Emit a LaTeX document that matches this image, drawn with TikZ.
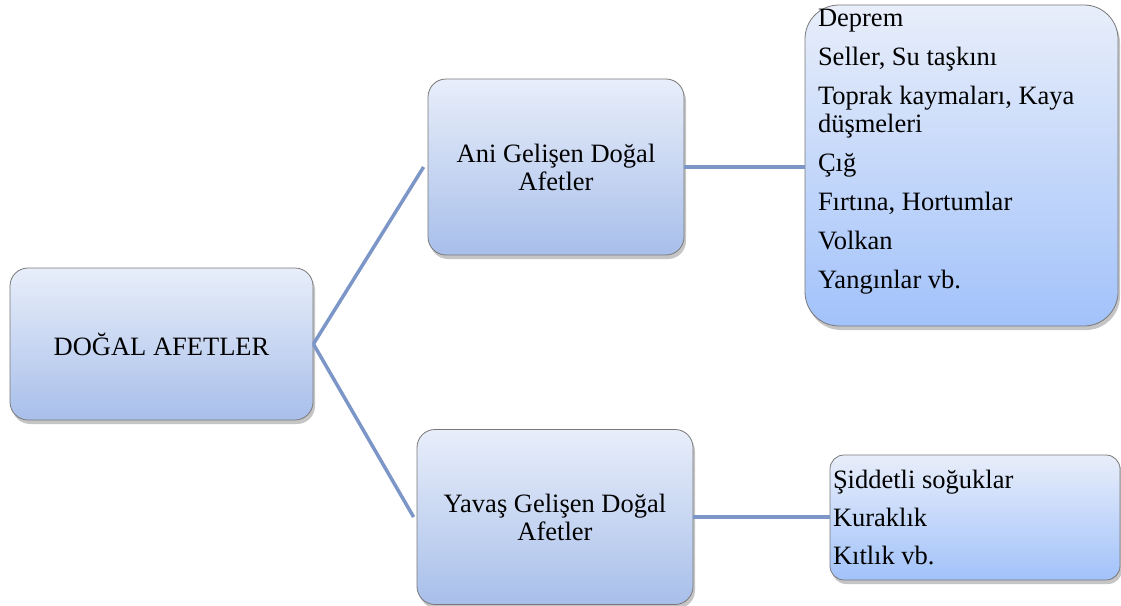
\documentclass[tikz,border=0pt]{standalone}
\usepackage{fontspec}
\setmainfont{Liberation Serif}
\usetikzlibrary{
    arrows.meta,
    positioning,
    shadows
}
\definecolor{linkblue}{RGB}{124, 150, 200}
\definecolor{boxtop}{RGB}{232, 238, 250}
\definecolor{boxbottom}{RGB}{168, 191, 234}
\definecolor{listbottom}{RGB}{162, 194, 250}
\definecolor{boxedge}{RGB}{120, 120, 120}

\begin{document}
\begin{tikzpicture}[
        x=1pt, y=-1pt,
        font=\fontsize{26.5}{28}\selectfont,
        block/.style={draw=boxedge, line width=0.8pt, rounded corners=18pt, align=center,
            top color=boxtop, bottom color=boxbottom,
            drop shadow={shadow xshift=2pt, shadow yshift=-4pt, fill=black!45, opacity=0.5}},
        listbox/.style={block, bottom color=listbottom, inner sep=0pt},
        link/.style={draw=linkblue, line width=3.5pt}
    ]
        \useasboundingbox (0,0) rectangle (1121,605);

        % Root
        \node[block, minimum width=303pt, minimum height=152pt] (root) at (161.5, 344) {DOĞAL AFETLER};

        % Groups
        \node[block, minimum width=256pt, minimum height=176pt] (ani) at (556, 167) {Ani Gelişen Doğal\\Afetler};
        \node[block, minimum width=276pt, minimum height=175pt] (yavas) at (555, 517) {Yavaş Gelişen Doğal\\Afetler};

        % Lists
        \node[listbox, rounded corners=34pt] (anilist) at (961.5, 165.5) {%
            \begin{minipage}[c][321pt][t]{313pt}
            \leftskip=13pt \parskip=11pt
            \vspace*{4pt}
            Deprem\par
            Seller, Su taşkını\par
            Toprak kaymaları, Kaya\\düşmeleri\par
            Çığ\par
            Fırtına, Hortumlar\par
            Volkan\par
            Yangınlar vb.
            \end{minipage}};
        \node[listbox, rounded corners=14pt] (yavaslist) at (975, 517.5) {%
            \begin{minipage}[c][125pt][c]{290pt}
            \leftskip=3pt \parskip=10pt
            Şiddetli soğuklar\par
            Kuraklık\par
            Kıtlık vb.
            \end{minipage}};

        % Links
        \draw[link] (root.east) -- ([xshift=-4pt]ani.west);
        \draw[link] (root.east) -- ([xshift=-3pt]yavas.west);
        \draw[link] (ani.east) -- (ani.east -| anilist.west);
        \draw[link] (yavas.east) -- (yavas.east -| yavaslist.west);
    \end{tikzpicture}
\end{document}
